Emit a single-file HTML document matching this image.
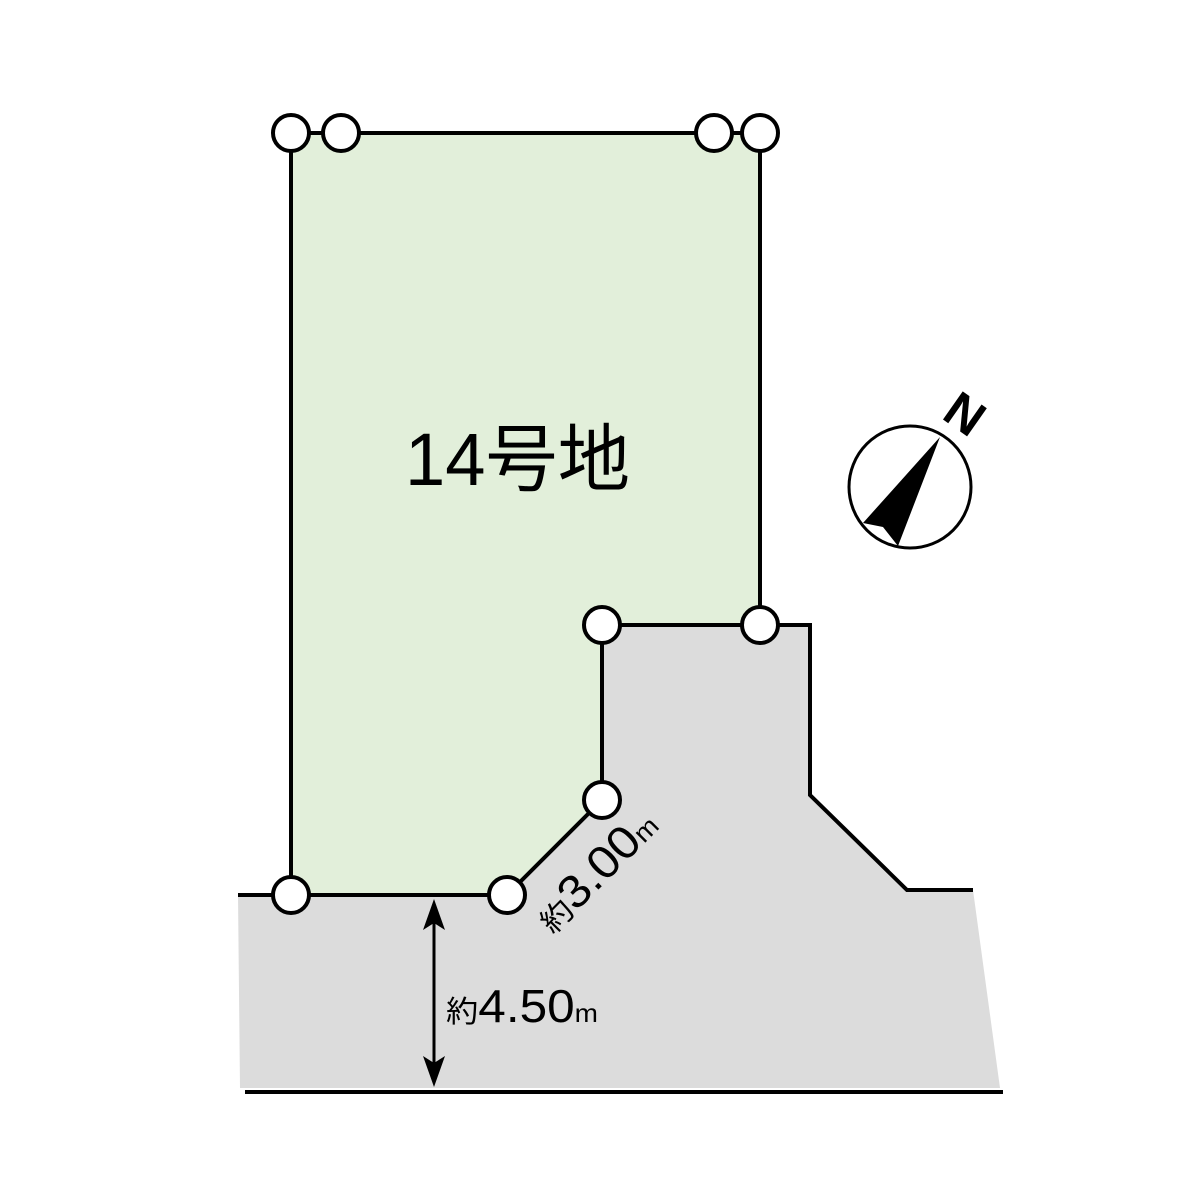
<!DOCTYPE html>
<html><head><meta charset="utf-8"><style>html,body{margin:0;padding:0;background:#fff}svg{display:block}</style></head>
<body>
<svg width="1200" height="1200" viewBox="0 0 1200 1200" xmlns="http://www.w3.org/2000/svg">
<polygon points="238,895 507,895 602,800 602,625 810,625 810,795 907,890 973,890 1000,1088 240,1088" fill="#dcdcdc"/>
<polygon points="291,133 760,133 760,625 602,625 602,800 507,895 291,895" fill="#e2efda" stroke="#000" stroke-width="4" stroke-linejoin="miter"/>
<polyline points="238,895 291,895" fill="none" stroke="#000" stroke-width="4"/>
<polyline points="760,625 810,625 810,795 907,890 973,890" fill="none" stroke="#000" stroke-width="4"/>
<line x1="245" y1="1092" x2="1003" y2="1092" stroke="#000" stroke-width="4"/>
<g fill="#fff" stroke="#000" stroke-width="4">
<circle cx="291" cy="133" r="18"/><circle cx="341" cy="133" r="18"/>
<circle cx="714" cy="133" r="18"/><circle cx="760" cy="133" r="18"/>
<circle cx="602" cy="625" r="18"/><circle cx="760" cy="625" r="18"/>
<circle cx="602" cy="800" r="18"/><circle cx="507" cy="895" r="18"/>
<circle cx="291" cy="895" r="18"/>
</g>
<line x1="434" y1="915" x2="434" y2="1070" stroke="#000" stroke-width="3"/>
<polygon points="434,899 423,930 434,923 445,930" fill="#000"/>
<polygon points="434,1087 423,1056 434,1063 445,1056" fill="#000"/>
<text x="446" y="1022" font-family="Liberation Sans, Noto Sans CJK JP, sans-serif" fill="#000" textLength="152" lengthAdjust="spacingAndGlyphs"><tspan font-size="30">約</tspan><tspan font-size="46">4.50</tspan><tspan font-size="26">m</tspan></text>
<text transform="translate(553,935) rotate(-45)" font-family="Liberation Sans, Noto Sans CJK JP, sans-serif" fill="#000" textLength="152" lengthAdjust="spacingAndGlyphs"><tspan font-size="30">約</tspan><tspan font-size="46">3.00</tspan><tspan font-size="26">m</tspan></text>
<text x="405" y="485" font-family="Liberation Sans, Noto Sans CJK JP, sans-serif" font-size="74" fill="#000" textLength="225" lengthAdjust="spacingAndGlyphs">14号地</text>
<circle cx="910" cy="487" r="61" fill="#fff" stroke="#000" stroke-width="3"/>
<polygon points="940,437 863,523 883,527 898,546" fill="#000"/>
<text transform="translate(955,428) rotate(35)" text-anchor="middle" font-family="Liberation Sans, sans-serif" font-weight="bold" font-size="50" fill="#000">N</text>
</svg>
</body></html>
